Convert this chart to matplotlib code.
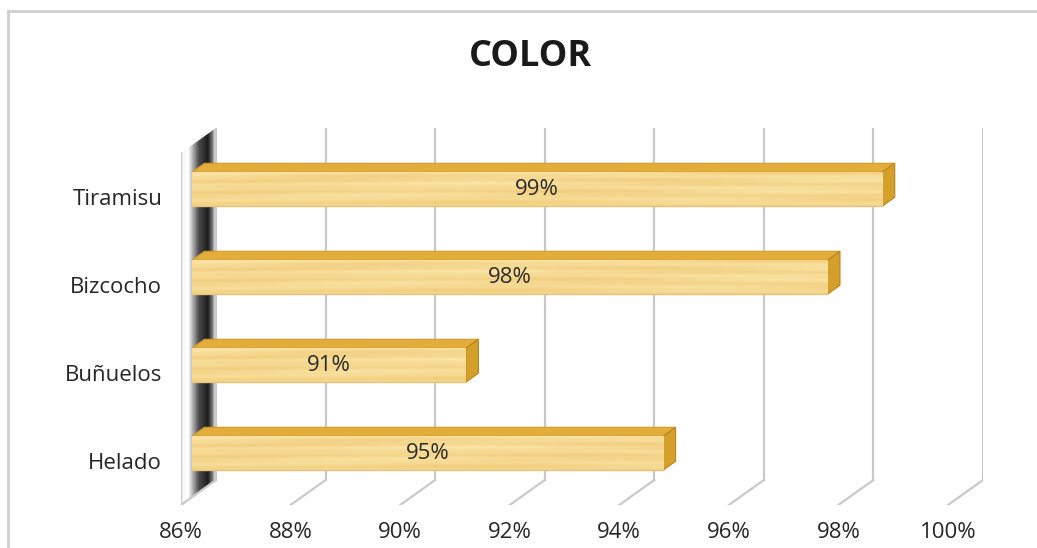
import numpy as np
import matplotlib.pyplot as plt
from matplotlib.patches import Polygon
from matplotlib.lines import Line2D
from matplotlib.colors import LinearSegmentedColormap

# data
categories = ['Tiramisu', 'Bizcocho', 'Buñuelos', 'Helado']
values = [98.6, 97.6, 91.0, 94.6]
xticks = [86, 88, 90, 92, 94, 96, 98, 100]
xtick_labels = ['86%', '88%', '90%', '92%', '94%', '96%', '98%', '100%']

# fake 3d: depth offset in data units (x in %, y in category slots)
DX, DY = 0.639, -0.284
D0, D1 = 0.31, 0.67      # bar front / back depth
H = 0.193                # half bar height
XMIN, XMAX = xticks[0], xticks[-1]
YTOP, YBOT = -0.5, len(categories) - 0.5

plt.rcParams['font.family'] = ['Open Sans', 'DejaVu Sans']


def proj(x, y, d):
    return x + d * DX, y + d * DY


def wood(width_frac):
    rows, cols = 60, 500
    yy = np.linspace(0, 1, rows)[:, None]
    xx = np.linspace(0, width_frac, cols)[None, :]
    t = (0.5 + 0.22 * np.sin(yy * 17 + 2.0 * np.sin(xx * 5.0))
         + 0.12 * np.sin(yy * 39 + 4 * xx) + 0.12 * np.cos(xx * 13 + yy * 5))
    t = np.clip(t, 0, 1)
    t = t * (1 - 0.3 * yy ** 3)
    light = np.array([251, 230, 170]) / 255
    dark = np.array([241, 205, 124]) / 255
    return dark + (light - dark) * t[..., None]


fig = plt.figure(figsize=(10.37, 5.48), dpi=100)
ax = fig.add_axes([181 / 1037, 43 / 548, 802 / 1037, 377 / 548])

grid_c = '#c9c9c9'

# left wall with dark shading
wall_pts = [proj(XMIN, YTOP, 0), proj(XMIN, YTOP, 1), proj(XMIN, YBOT, 1), proj(XMIN, YBOT, 0)]
wall = Polygon(wall_pts, closed=True, facecolor='none', edgecolor='none')
ax.add_patch(wall)
wall_cmap = LinearSegmentedColormap.from_list('wall', [
    (0.0, '#f6f6f6'), (0.2, '#ffffff'), (0.32, '#b5b5b5'), (0.5, '#4a4a4a'),
    (0.75, '#1c1c1c'), (0.88, '#7a7a7a'), (0.96, '#f4f4f4'), (1.0, '#ffffff')])
im = ax.imshow(np.linspace(0, 1, 200)[None, :], cmap=wall_cmap, aspect='auto',
               extent=(XMIN, XMIN + DX, YBOT, YTOP + DY), zorder=1)
im.set_clip_path(wall)
ax.plot([XMIN, XMIN], [YTOP, YBOT], color=grid_c, lw=1.6, zorder=2)

# back wall gridlines and floor lines
for t in xticks:
    bx, by_top = proj(t, YTOP, 1)
    _, by_bot = proj(t, YBOT, 1)
    ax.plot([bx, bx], [by_top, by_bot], color=grid_c, lw=1.6, zorder=2)
    ax.plot([t, bx], [YBOT, by_bot], color=grid_c, lw=1.6, zorder=2)

# bars
for i, (cat, v) in enumerate(zip(categories, values)):
    fx0, fy = proj(XMIN, i, D0)
    fx1, _ = proj(v, i, D0)
    bx0, by = proj(XMIN, i, D1)
    bx1, _ = proj(v, i, D1)
    top = Polygon([(fx0, fy - H), (fx1, fy - H), (bx1, by - H), (bx0, by - H)],
                  facecolor='#e3ad3c', edgecolor='#cf9a2c', lw=0.8, zorder=4)
    side = Polygon([(fx1, fy - H), (bx1, by - H), (bx1, by + H), (fx1, fy + H)],
                   facecolor='#d49f2a', edgecolor='#b98318', lw=0.8, zorder=4)
    ax.add_patch(top)
    ax.add_patch(side)
    ax.imshow(wood((v - XMIN) / 14), aspect='auto', interpolation='bilinear',
              extent=(fx0, fx1, fy + H, fy - H), zorder=5)
    ax.plot([fx0, fx1], [fy + H, fy + H], color='#e6c27a', lw=1.0, zorder=6)
    ax.text((fx0 + fx1) / 2, fy, f'{v:.0f}%', ha='center', va='center',
            fontsize=16, color='#2b2b2b', zorder=7)

ax.set_xlim(XMIN, XMAX + DX)
ax.set_ylim(YBOT, YTOP + DY)
ax.set_xticks(xticks)
ax.set_xticklabels(xtick_labels)
ax.set_yticks(range(len(categories)))
ax.set_yticklabels(categories)
ax.tick_params(axis='x', length=0, pad=12, labelsize=16, labelcolor='#262626')
ax.tick_params(axis='y', length=0, pad=13.5, labelsize=16, labelcolor='#262626')
for s in ax.spines.values():
    s.set_visible(False)
ax.patch.set_alpha(0)

fig.text(530 / 1037, 1 - 57 / 548, 'COLOR', ha='center', va='center',
         fontsize=26, fontweight='bold', color='#1a1a1a')

# chart area border (top and left)
fig.add_artist(Line2D([8 / 1037, 1], [1 - 11 / 548, 1 - 11 / 548],
                      transform=fig.transFigure, color='#cfcfcf', lw=2))
fig.add_artist(Line2D([8 / 1037, 8 / 1037], [0, 1 - 11 / 548],
                      transform=fig.transFigure, color='#cfcfcf', lw=2))

fig.savefig('out.png', dpi=100)
